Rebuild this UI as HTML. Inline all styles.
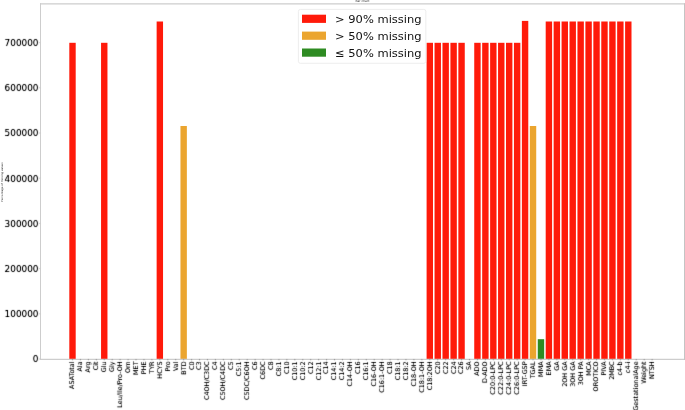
<!DOCTYPE html><html><head><meta charset="utf-8"><title>Bar chart</title><style>html,body{margin:0;padding:0;background:#fff;width:685px;height:410px;overflow:hidden}svg{display:block}text{font-family:"DejaVu Sans","Liberation Sans",sans-serif}</style></head><body>
<svg width="685" height="410" viewBox="0 0 685 410">
<defs><filter id="bl" color-interpolation-filters="sRGB" x="-2%" y="-2%" width="104%" height="104%"><feConvolveMatrix order="3" kernelMatrix="0.0100 0.0800 0.0100 0.0800 0.6400 0.0800 0.0100 0.0800 0.0100" divisor="1" preserveAlpha="false" edgeMode="none"/><feComponentTransfer><feFuncA type="linear" slope="1.2"/></feComponentTransfer></filter></defs>
<text x="3624" y="24" font-size="30" fill="#333" text-anchor="middle" transform="scale(0.1)">Bar chart</text>
<text transform="translate(3.0,182) rotate(-90) scale(0.1)" font-size="27" fill="#222" text-anchor="middle">Percentage of missing values</text>
<rect x="69.30" y="42.80" width="6.40" height="316.20" fill="#FF1A0A"/>
<rect x="101.06" y="42.80" width="6.40" height="316.20" fill="#FF1A0A"/>
<rect x="156.64" y="21.50" width="6.40" height="337.50" fill="#FF1A0A"/>
<rect x="180.46" y="126.00" width="6.40" height="233.00" fill="#EBA52F"/>
<rect x="426.60" y="42.80" width="6.40" height="316.20" fill="#FF1A0A"/>
<rect x="434.54" y="42.80" width="6.40" height="316.20" fill="#FF1A0A"/>
<rect x="442.48" y="42.80" width="6.40" height="316.20" fill="#FF1A0A"/>
<rect x="450.42" y="42.80" width="6.40" height="316.20" fill="#FF1A0A"/>
<rect x="458.36" y="42.80" width="6.40" height="316.20" fill="#FF1A0A"/>
<rect x="474.24" y="42.80" width="6.40" height="316.20" fill="#FF1A0A"/>
<rect x="482.18" y="42.80" width="6.40" height="316.20" fill="#FF1A0A"/>
<rect x="490.12" y="42.80" width="6.40" height="316.20" fill="#FF1A0A"/>
<rect x="498.06" y="42.80" width="6.40" height="316.20" fill="#FF1A0A"/>
<rect x="506.00" y="42.80" width="6.40" height="316.20" fill="#FF1A0A"/>
<rect x="513.94" y="42.80" width="6.40" height="316.20" fill="#FF1A0A"/>
<rect x="521.88" y="20.90" width="6.40" height="338.10" fill="#FF1A0A"/>
<rect x="529.82" y="126.00" width="6.40" height="233.00" fill="#EBA52F"/>
<rect x="537.76" y="339.20" width="6.40" height="19.80" fill="#2E8B22"/>
<rect x="545.70" y="21.50" width="6.40" height="337.50" fill="#FF1A0A"/>
<rect x="553.64" y="21.50" width="6.40" height="337.50" fill="#FF1A0A"/>
<rect x="561.58" y="21.50" width="6.40" height="337.50" fill="#FF1A0A"/>
<rect x="569.52" y="21.50" width="6.40" height="337.50" fill="#FF1A0A"/>
<rect x="577.46" y="21.50" width="6.40" height="337.50" fill="#FF1A0A"/>
<rect x="585.40" y="21.50" width="6.40" height="337.50" fill="#FF1A0A"/>
<rect x="593.34" y="21.50" width="6.40" height="337.50" fill="#FF1A0A"/>
<rect x="601.28" y="21.50" width="6.40" height="337.50" fill="#FF1A0A"/>
<rect x="609.22" y="21.50" width="6.40" height="337.50" fill="#FF1A0A"/>
<rect x="617.16" y="21.50" width="6.40" height="337.50" fill="#FF1A0A"/>
<rect x="625.10" y="21.50" width="6.40" height="337.50" fill="#FF1A0A"/>
<g stroke="#cdcdcd" fill="none">
<line x1="40.5" y1="3.2" x2="40.5" y2="360" stroke-width="1"/>
<line x1="40" y1="3.85" x2="684.8" y2="3.85" stroke-width="1.4" stroke="#cdcdcd"/>
<line x1="40" y1="359.4" x2="684.8" y2="359.4" stroke-width="1.1"/>
<line x1="684.5" y1="3.2" x2="684.5" y2="360" stroke-width="1" stroke="#c4c4c4"/>
</g>
<g filter="url(#bl)" fill="#000" stroke="none" font-size="8.9" text-anchor="end">
<line x1="39" y1="359.00" x2="40.3" y2="359.00" stroke="#c4c4c4" stroke-width="0.8"/>
<text transform="translate(38.5,362.30) scale(1,0.97)">0</text>
<line x1="39" y1="313.80" x2="40.3" y2="313.80" stroke="#c4c4c4" stroke-width="0.8"/>
<text transform="translate(38.5,317.10) scale(1,0.97)">100000</text>
<line x1="39" y1="268.60" x2="40.3" y2="268.60" stroke="#c4c4c4" stroke-width="0.8"/>
<text transform="translate(38.5,271.90) scale(1,0.97)">200000</text>
<line x1="39" y1="223.40" x2="40.3" y2="223.40" stroke="#c4c4c4" stroke-width="0.8"/>
<text transform="translate(38.5,226.70) scale(1,0.97)">300000</text>
<line x1="39" y1="178.20" x2="40.3" y2="178.20" stroke="#c4c4c4" stroke-width="0.8"/>
<text transform="translate(38.5,181.50) scale(1,0.97)">400000</text>
<line x1="39" y1="133.00" x2="40.3" y2="133.00" stroke="#c4c4c4" stroke-width="0.8"/>
<text transform="translate(38.5,136.30) scale(1,0.97)">500000</text>
<line x1="39" y1="87.80" x2="40.3" y2="87.80" stroke="#c4c4c4" stroke-width="0.8"/>
<text transform="translate(38.5,91.10) scale(1,0.97)">600000</text>
<line x1="39" y1="42.60" x2="40.3" y2="42.60" stroke="#c4c4c4" stroke-width="0.8"/>
<text transform="translate(38.5,45.90) scale(1,0.97)">700000</text>
</g>
<g filter="url(#bl)" fill="#000" stroke="none" font-size="6.45" text-anchor="end">
<line x1="72.50" y1="359.2" x2="72.50" y2="360.2" stroke="#777" stroke-width="0.8"/>
<text transform="translate(74.40,361.4) scale(1,1.0) rotate(-90)">ASATotal</text>
<line x1="80.44" y1="359.2" x2="80.44" y2="360.2" stroke="#777" stroke-width="0.8"/>
<text transform="translate(82.34,361.4) scale(1,1.0) rotate(-90)">Ala</text>
<line x1="88.38" y1="359.2" x2="88.38" y2="360.2" stroke="#777" stroke-width="0.8"/>
<text transform="translate(90.28,361.4) scale(1,1.0) rotate(-90)">Arg</text>
<line x1="96.32" y1="359.2" x2="96.32" y2="360.2" stroke="#777" stroke-width="0.8"/>
<text transform="translate(98.22,361.4) scale(1,1.0) rotate(-90)">Cit</text>
<line x1="104.26" y1="359.2" x2="104.26" y2="360.2" stroke="#777" stroke-width="0.8"/>
<text transform="translate(106.16,361.4) scale(1,1.0) rotate(-90)">Glu</text>
<line x1="112.20" y1="359.2" x2="112.20" y2="360.2" stroke="#777" stroke-width="0.8"/>
<text transform="translate(114.10,361.4) scale(1,1.0) rotate(-90)">Gly</text>
<line x1="120.14" y1="359.2" x2="120.14" y2="360.2" stroke="#777" stroke-width="0.8"/>
<text transform="translate(122.04,361.4) scale(1,1.0) rotate(-90)">Leu/Ile/Pro-OH</text>
<line x1="128.08" y1="359.2" x2="128.08" y2="360.2" stroke="#777" stroke-width="0.8"/>
<text transform="translate(129.98,361.4) scale(1,1.0) rotate(-90)">Orn</text>
<line x1="136.02" y1="359.2" x2="136.02" y2="360.2" stroke="#777" stroke-width="0.8"/>
<text transform="translate(137.92,361.4) scale(1,1.0) rotate(-90)">MET</text>
<line x1="143.96" y1="359.2" x2="143.96" y2="360.2" stroke="#777" stroke-width="0.8"/>
<text transform="translate(145.86,361.4) scale(1,1.0) rotate(-90)">PHE</text>
<line x1="151.90" y1="359.2" x2="151.90" y2="360.2" stroke="#777" stroke-width="0.8"/>
<text transform="translate(153.80,361.4) scale(1,1.0) rotate(-90)">TYR</text>
<line x1="159.84" y1="359.2" x2="159.84" y2="360.2" stroke="#777" stroke-width="0.8"/>
<text transform="translate(161.74,361.4) scale(1,1.0) rotate(-90)">HCYS</text>
<line x1="167.78" y1="359.2" x2="167.78" y2="360.2" stroke="#777" stroke-width="0.8"/>
<text transform="translate(169.68,361.4) scale(1,1.0) rotate(-90)">Pro</text>
<line x1="175.72" y1="359.2" x2="175.72" y2="360.2" stroke="#777" stroke-width="0.8"/>
<text transform="translate(177.62,361.4) scale(1,1.0) rotate(-90)">Val</text>
<line x1="183.66" y1="359.2" x2="183.66" y2="360.2" stroke="#777" stroke-width="0.8"/>
<text transform="translate(185.56,361.4) scale(1,1.0) rotate(-90)">BTD</text>
<line x1="191.60" y1="359.2" x2="191.60" y2="360.2" stroke="#777" stroke-width="0.8"/>
<text transform="translate(193.50,361.4) scale(1,1.0) rotate(-90)">C0</text>
<line x1="199.54" y1="359.2" x2="199.54" y2="360.2" stroke="#777" stroke-width="0.8"/>
<text transform="translate(201.44,361.4) scale(1,1.0) rotate(-90)">C3</text>
<line x1="207.48" y1="359.2" x2="207.48" y2="360.2" stroke="#777" stroke-width="0.8"/>
<text transform="translate(209.38,361.4) scale(1,1.0) rotate(-90)">C4OH/C3DC</text>
<line x1="215.42" y1="359.2" x2="215.42" y2="360.2" stroke="#777" stroke-width="0.8"/>
<text transform="translate(217.32,361.4) scale(1,1.0) rotate(-90)">C4</text>
<line x1="223.36" y1="359.2" x2="223.36" y2="360.2" stroke="#777" stroke-width="0.8"/>
<text transform="translate(225.26,361.4) scale(1,1.0) rotate(-90)">C5OH/C4DC</text>
<line x1="231.30" y1="359.2" x2="231.30" y2="360.2" stroke="#777" stroke-width="0.8"/>
<text transform="translate(233.20,361.4) scale(1,1.0) rotate(-90)">C5</text>
<line x1="239.24" y1="359.2" x2="239.24" y2="360.2" stroke="#777" stroke-width="0.8"/>
<text transform="translate(241.14,361.4) scale(1,1.0) rotate(-90)">C5:1</text>
<line x1="247.18" y1="359.2" x2="247.18" y2="360.2" stroke="#777" stroke-width="0.8"/>
<text transform="translate(249.08,361.4) scale(1,1.0) rotate(-90)">C5DC/C6OH</text>
<line x1="255.12" y1="359.2" x2="255.12" y2="360.2" stroke="#777" stroke-width="0.8"/>
<text transform="translate(257.02,361.4) scale(1,1.0) rotate(-90)">C6</text>
<line x1="263.06" y1="359.2" x2="263.06" y2="360.2" stroke="#777" stroke-width="0.8"/>
<text transform="translate(264.96,361.4) scale(1,1.0) rotate(-90)">C6DC</text>
<line x1="271.00" y1="359.2" x2="271.00" y2="360.2" stroke="#777" stroke-width="0.8"/>
<text transform="translate(272.90,361.4) scale(1,1.0) rotate(-90)">C8</text>
<line x1="278.94" y1="359.2" x2="278.94" y2="360.2" stroke="#777" stroke-width="0.8"/>
<text transform="translate(280.84,361.4) scale(1,1.0) rotate(-90)">C8:1</text>
<line x1="286.88" y1="359.2" x2="286.88" y2="360.2" stroke="#777" stroke-width="0.8"/>
<text transform="translate(288.78,361.4) scale(1,1.0) rotate(-90)">C10</text>
<line x1="294.82" y1="359.2" x2="294.82" y2="360.2" stroke="#777" stroke-width="0.8"/>
<text transform="translate(296.72,361.4) scale(1,1.0) rotate(-90)">C10:1</text>
<line x1="302.76" y1="359.2" x2="302.76" y2="360.2" stroke="#777" stroke-width="0.8"/>
<text transform="translate(304.66,361.4) scale(1,1.0) rotate(-90)">C10:2</text>
<line x1="310.70" y1="359.2" x2="310.70" y2="360.2" stroke="#777" stroke-width="0.8"/>
<text transform="translate(312.60,361.4) scale(1,1.0) rotate(-90)">C12</text>
<line x1="318.64" y1="359.2" x2="318.64" y2="360.2" stroke="#777" stroke-width="0.8"/>
<text transform="translate(320.54,361.4) scale(1,1.0) rotate(-90)">C12:1</text>
<line x1="326.58" y1="359.2" x2="326.58" y2="360.2" stroke="#777" stroke-width="0.8"/>
<text transform="translate(328.48,361.4) scale(1,1.0) rotate(-90)">C14</text>
<line x1="334.52" y1="359.2" x2="334.52" y2="360.2" stroke="#777" stroke-width="0.8"/>
<text transform="translate(336.42,361.4) scale(1,1.0) rotate(-90)">C14:1</text>
<line x1="342.46" y1="359.2" x2="342.46" y2="360.2" stroke="#777" stroke-width="0.8"/>
<text transform="translate(344.36,361.4) scale(1,1.0) rotate(-90)">C14:2</text>
<line x1="350.40" y1="359.2" x2="350.40" y2="360.2" stroke="#777" stroke-width="0.8"/>
<text transform="translate(352.30,361.4) scale(1,1.0) rotate(-90)">C14-OH</text>
<line x1="358.34" y1="359.2" x2="358.34" y2="360.2" stroke="#777" stroke-width="0.8"/>
<text transform="translate(360.24,361.4) scale(1,1.0) rotate(-90)">C16</text>
<line x1="366.28" y1="359.2" x2="366.28" y2="360.2" stroke="#777" stroke-width="0.8"/>
<text transform="translate(368.18,361.4) scale(1,1.0) rotate(-90)">C16:1</text>
<line x1="374.22" y1="359.2" x2="374.22" y2="360.2" stroke="#777" stroke-width="0.8"/>
<text transform="translate(376.12,361.4) scale(1,1.0) rotate(-90)">C16-OH</text>
<line x1="382.16" y1="359.2" x2="382.16" y2="360.2" stroke="#777" stroke-width="0.8"/>
<text transform="translate(384.06,361.4) scale(1,1.0) rotate(-90)">C16:1-OH</text>
<line x1="390.10" y1="359.2" x2="390.10" y2="360.2" stroke="#777" stroke-width="0.8"/>
<text transform="translate(392.00,361.4) scale(1,1.0) rotate(-90)">C18</text>
<line x1="398.04" y1="359.2" x2="398.04" y2="360.2" stroke="#777" stroke-width="0.8"/>
<text transform="translate(399.94,361.4) scale(1,1.0) rotate(-90)">C18:1</text>
<line x1="405.98" y1="359.2" x2="405.98" y2="360.2" stroke="#777" stroke-width="0.8"/>
<text transform="translate(407.88,361.4) scale(1,1.0) rotate(-90)">C18:2</text>
<line x1="413.92" y1="359.2" x2="413.92" y2="360.2" stroke="#777" stroke-width="0.8"/>
<text transform="translate(415.82,361.4) scale(1,1.0) rotate(-90)">C18-OH</text>
<line x1="421.86" y1="359.2" x2="421.86" y2="360.2" stroke="#777" stroke-width="0.8"/>
<text transform="translate(423.76,361.4) scale(1,1.0) rotate(-90)">C18:1-OH</text>
<line x1="429.80" y1="359.2" x2="429.80" y2="360.2" stroke="#777" stroke-width="0.8"/>
<text transform="translate(431.70,361.4) scale(1,1.0) rotate(-90)">C18:2OH</text>
<line x1="437.74" y1="359.2" x2="437.74" y2="360.2" stroke="#777" stroke-width="0.8"/>
<text transform="translate(439.64,361.4) scale(1,1.0) rotate(-90)">C20</text>
<line x1="445.68" y1="359.2" x2="445.68" y2="360.2" stroke="#777" stroke-width="0.8"/>
<text transform="translate(447.58,361.4) scale(1,1.0) rotate(-90)">C22</text>
<line x1="453.62" y1="359.2" x2="453.62" y2="360.2" stroke="#777" stroke-width="0.8"/>
<text transform="translate(455.52,361.4) scale(1,1.0) rotate(-90)">C24</text>
<line x1="461.56" y1="359.2" x2="461.56" y2="360.2" stroke="#777" stroke-width="0.8"/>
<text transform="translate(463.46,361.4) scale(1,1.0) rotate(-90)">C26</text>
<line x1="469.50" y1="359.2" x2="469.50" y2="360.2" stroke="#777" stroke-width="0.8"/>
<text transform="translate(471.40,361.4) scale(1,1.0) rotate(-90)">SA</text>
<line x1="477.44" y1="359.2" x2="477.44" y2="360.2" stroke="#777" stroke-width="0.8"/>
<text transform="translate(479.34,361.4) scale(1,1.0) rotate(-90)">ADO</text>
<line x1="485.38" y1="359.2" x2="485.38" y2="360.2" stroke="#777" stroke-width="0.8"/>
<text transform="translate(487.28,361.4) scale(1,1.0) rotate(-90)">D-ADO</text>
<line x1="493.32" y1="359.2" x2="493.32" y2="360.2" stroke="#777" stroke-width="0.8"/>
<text transform="translate(495.22,361.4) scale(1,1.0) rotate(-90)">C20:0-LPC</text>
<line x1="501.26" y1="359.2" x2="501.26" y2="360.2" stroke="#777" stroke-width="0.8"/>
<text transform="translate(503.16,361.4) scale(1,1.0) rotate(-90)">C22:0-LPC</text>
<line x1="509.20" y1="359.2" x2="509.20" y2="360.2" stroke="#777" stroke-width="0.8"/>
<text transform="translate(511.10,361.4) scale(1,1.0) rotate(-90)">C24:0-LPC</text>
<line x1="517.14" y1="359.2" x2="517.14" y2="360.2" stroke="#777" stroke-width="0.8"/>
<text transform="translate(519.04,361.4) scale(1,1.0) rotate(-90)">C26:0-LPC</text>
<line x1="525.08" y1="359.2" x2="525.08" y2="360.2" stroke="#777" stroke-width="0.8"/>
<text transform="translate(526.98,361.4) scale(1,1.0) rotate(-90)">IRT-GSP</text>
<line x1="533.02" y1="359.2" x2="533.02" y2="360.2" stroke="#777" stroke-width="0.8"/>
<text transform="translate(534.92,361.4) scale(1,1.0) rotate(-90)">TGAL</text>
<line x1="540.96" y1="359.2" x2="540.96" y2="360.2" stroke="#777" stroke-width="0.8"/>
<text transform="translate(542.86,361.4) scale(1,1.0) rotate(-90)">MMA</text>
<line x1="548.90" y1="359.2" x2="548.90" y2="360.2" stroke="#777" stroke-width="0.8"/>
<text transform="translate(550.80,361.4) scale(1,1.0) rotate(-90)">EMA</text>
<line x1="556.84" y1="359.2" x2="556.84" y2="360.2" stroke="#777" stroke-width="0.8"/>
<text transform="translate(558.74,361.4) scale(1,1.0) rotate(-90)">GA</text>
<line x1="564.78" y1="359.2" x2="564.78" y2="360.2" stroke="#777" stroke-width="0.8"/>
<text transform="translate(566.68,361.4) scale(1,1.0) rotate(-90)">2OH GA</text>
<line x1="572.72" y1="359.2" x2="572.72" y2="360.2" stroke="#777" stroke-width="0.8"/>
<text transform="translate(574.62,361.4) scale(1,1.0) rotate(-90)">3OH GA</text>
<line x1="580.66" y1="359.2" x2="580.66" y2="360.2" stroke="#777" stroke-width="0.8"/>
<text transform="translate(582.56,361.4) scale(1,1.0) rotate(-90)">3OH PA</text>
<line x1="588.60" y1="359.2" x2="588.60" y2="360.2" stroke="#777" stroke-width="0.8"/>
<text transform="translate(590.50,361.4) scale(1,1.0) rotate(-90)">MCA</text>
<line x1="596.54" y1="359.2" x2="596.54" y2="360.2" stroke="#777" stroke-width="0.8"/>
<text transform="translate(598.44,361.4) scale(1,1.0) rotate(-90)">OROTICO</text>
<line x1="604.48" y1="359.2" x2="604.48" y2="360.2" stroke="#777" stroke-width="0.8"/>
<text transform="translate(606.38,361.4) scale(1,1.0) rotate(-90)">PIVA</text>
<line x1="612.42" y1="359.2" x2="612.42" y2="360.2" stroke="#777" stroke-width="0.8"/>
<text transform="translate(614.32,361.4) scale(1,1.0) rotate(-90)">2MBC</text>
<line x1="620.36" y1="359.2" x2="620.36" y2="360.2" stroke="#777" stroke-width="0.8"/>
<text transform="translate(622.26,361.4) scale(1,1.0) rotate(-90)">c4-b</text>
<line x1="628.30" y1="359.2" x2="628.30" y2="360.2" stroke="#777" stroke-width="0.8"/>
<text transform="translate(630.20,361.4) scale(1,1.0) rotate(-90)">c4-i</text>
<line x1="636.24" y1="359.2" x2="636.24" y2="360.2" stroke="#777" stroke-width="0.8"/>
<text transform="translate(638.14,361.4) scale(1,1.0) rotate(-90)">GestationalAge</text>
<line x1="644.18" y1="359.2" x2="644.18" y2="360.2" stroke="#777" stroke-width="0.8"/>
<text transform="translate(646.08,361.4) scale(1,1.0) rotate(-90)">Weight</text>
<line x1="652.12" y1="359.2" x2="652.12" y2="360.2" stroke="#777" stroke-width="0.8"/>
<text transform="translate(654.02,361.4) scale(1,1.0) rotate(-90)">NTSH</text>
</g>
<rect x="298.4" y="9.4" width="127.4" height="53.9" rx="2" ry="2" fill="#fff" fill-opacity="0.8" stroke="#e8e8e8" stroke-width="0.8"/>
<rect x="302" y="14.70" width="24" height="8.2" fill="#FF1A0A"/>
<text transform="translate(335,23.15) scale(1,0.97)" font-size="11.5" fill="#111">&gt; 90% missing</text>
<rect x="302" y="31.60" width="24" height="8.2" fill="#EBA52F"/>
<text transform="translate(335,40.05) scale(1,0.97)" font-size="11.5" fill="#111">&gt; 50% missing</text>
<rect x="302" y="48.50" width="24" height="8.2" fill="#2E8B22"/>
<text transform="translate(335,56.95) scale(1,0.97)" font-size="11.5" fill="#111">≤ 50% missing</text>
</svg></body></html>
